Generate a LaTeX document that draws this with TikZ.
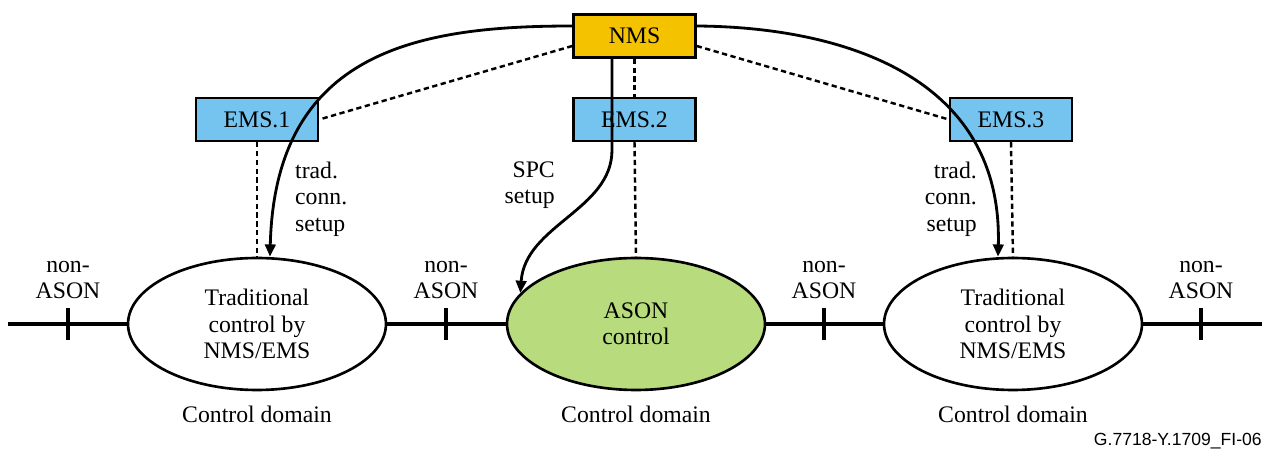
\documentclass[tikz,border=0pt]{standalone}
\usepackage{fontspec}
\setmainfont{Liberation Serif}
\newfontfamily\figsans{Liberation Sans}
\usetikzlibrary{arrows.meta,shapes.geometric}
\definecolor{nmsfill}{rgb}{0.96,0.76,0.0}
\definecolor{emsfill}{rgb}{0.46,0.77,0.94}
\definecolor{asonfill}{rgb}{0.72,0.86,0.49}

\begin{document}
\begin{tikzpicture}[x=0.02cm, y=-0.02cm, font=\fontsize{13.5}{15}\selectfont,
    mgmtbox/.style={draw, line width=1.4pt, minimum width=2.44cm, minimum height=0.86cm, inner sep=0pt},
    ctrldom/.style={ellipse, draw, line width=1.5pt, fill=white, minimum width=5.16cm, minimum height=2.64cm, inner sep=0pt, align=center},
    mgmtlink/.style={line width=1.4pt, dash pattern=on 3pt off 2pt},
    setuplink/.style={line width=1.6pt, -{Triangle[length=7pt,width=6pt]}}]
    \useasboundingbox (0,0) rectangle (1262,452);
    % management boxes
    \node[mgmtbox, fill=nmsfill] (nms) at (634.5,36) {NMS};
    \node[mgmtbox, fill=emsfill] (ems1) at (257,119.5) {EMS.1};
    \node[mgmtbox, fill=emsfill] (ems2) at (634.5,119.5) {EMS.2};
    \node[mgmtbox, fill=emsfill] (ems3) at (1011,119.5) {EMS.3};
    % control domains
    \node[ctrldom] (dom1) at (257,324) {Traditional\\control by\\NMS/EMS};
    \node[ctrldom, fill=asonfill] (dom2) at (636,324) {ASON\\control};
    \node[ctrldom] (dom3) at (1013,324) {Traditional\\control by\\NMS/EMS};
    \coordinate (lineW) at (8,324);
    \coordinate (lineE) at (1262,324);
    \coordinate (spcbend) at (612,150);
    % transport line
    \draw [line width=1.9pt] (lineW) -- (dom1.west);
    \draw [line width=1.9pt] (dom1.east) -- (dom2.west);
    \draw [line width=1.9pt] (dom2.east) -- (dom3.west);
    \draw [line width=1.9pt] (dom3.east) -- (lineE);
    \foreach \tx in {68,446,824,1201} {
        \draw [line width=1.9pt] (\tx,308) -- (\tx,340);
        \node[align=center] (nonason\tx) at (\tx,280) {non-\\ASON};
    }
    % management links
    \draw [mgmtlink] ([yshift=-0.2cm]nms.west) -- (ems1.east);
    \draw [mgmtlink] ([yshift=-0.2cm]nms.east) -- (ems3.west);
    \draw [mgmtlink] (nms.south) -- (ems2.north);
    \draw [mgmtlink] (ems1.south) -- (dom1.north);
    \draw [mgmtlink] (ems2.south) -- (dom2.north);
    \draw [mgmtlink] (ems3.south) -- (dom3.north);
    % connection setup
    \draw [setuplink] ([yshift=0.2cm]nms.west) .. controls (420,26) and (275,50) .. ([xshift=0.26cm]dom1.north);
    \draw [setuplink] ([yshift=0.2cm]nms.east) .. controls (840,27) and (1003,75) .. ([xshift=-0.3cm]dom3.north);
    \draw [setuplink] ([xshift=-0.45cm]nms.south) -- (spcbend) .. controls (612,210) and (525,225) .. (dom2.165);
    \node[align=left, anchor=west] (trad1) at (289,199) {trad.\\conn.\\setup};
    \node[align=right, anchor=east] (spc) at (561,185) {SPC\\setup};
    \node[align=right, anchor=east] (trad3) at (983,199) {trad.\\conn.\\setup};
    \node (cd1) at (257,414) {Control domain};
    \node (cd2) at (636,414) {Control domain};
    \node (cd3) at (1013,414) {Control domain};
    \node[anchor=east, inner sep=0pt, font=\figsans\fontsize{10}{12}\selectfont] (figid) at (1262,441) {G.7718-Y.1709\_FI-06};
\end{tikzpicture}
\end{document}
